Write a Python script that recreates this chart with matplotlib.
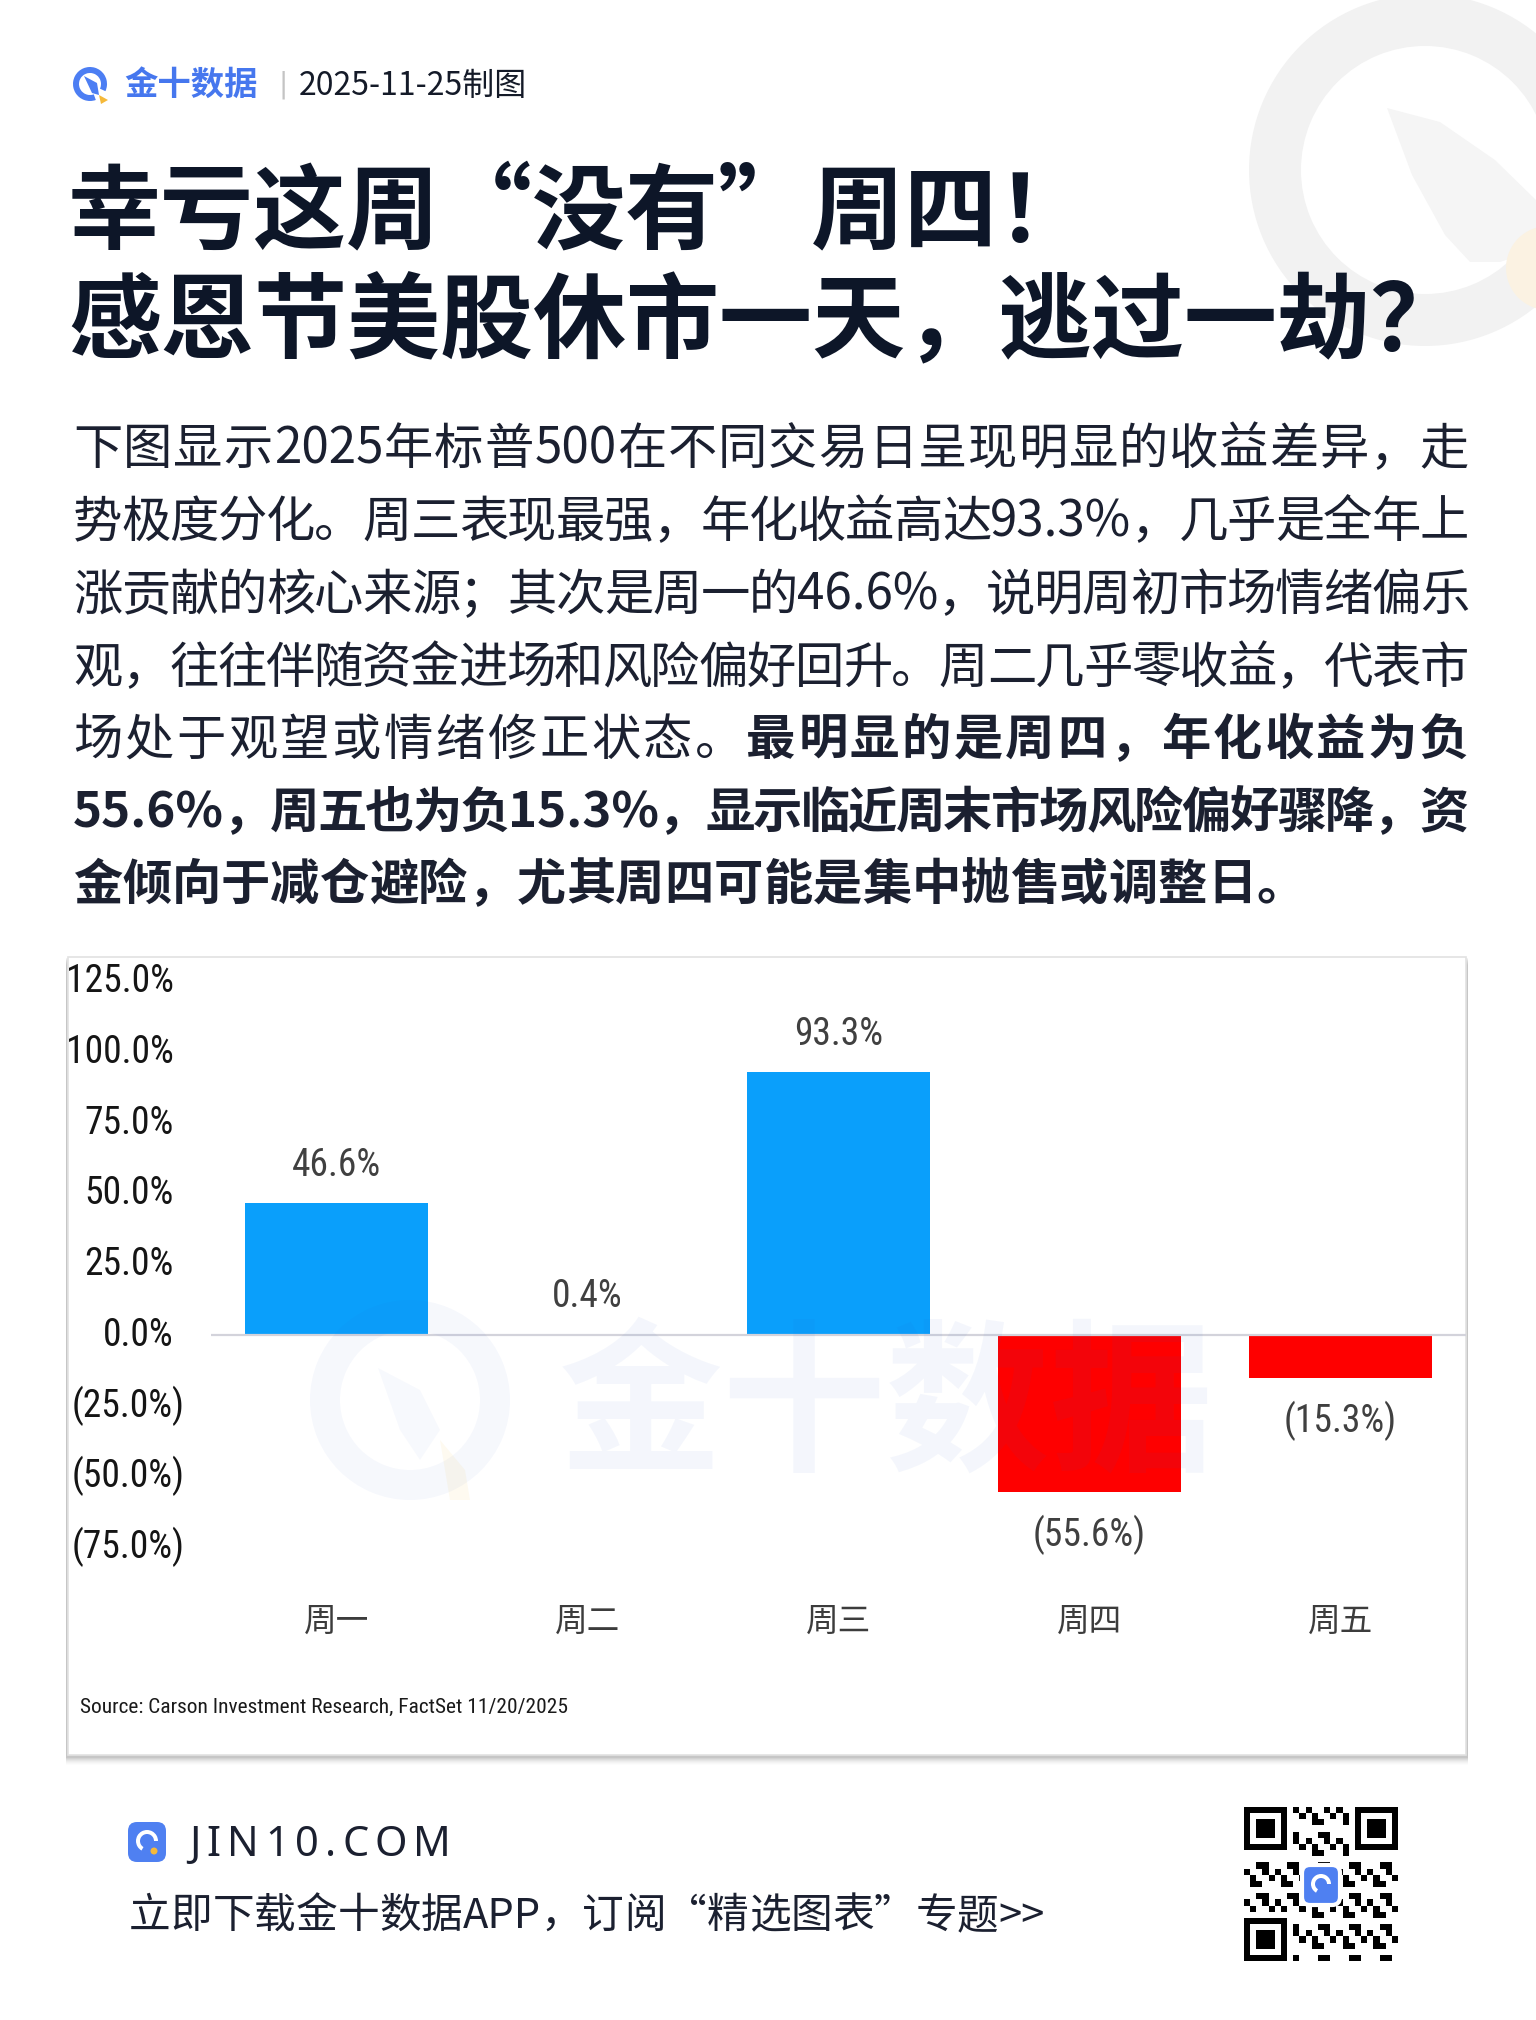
import re
import numpy as np
import matplotlib
matplotlib.use('Agg')
import matplotlib.pyplot as plt
from matplotlib import font_manager
from matplotlib.font_manager import FontProperties
from matplotlib.patches import Rectangle, Circle, Wedge, FancyBboxPatch, Polygon
import matplotlib.transforms as mtransforms

W, H, DPI = 1536, 2020, 100

# ---------------- data ----------------
days = ['周一', '周二', '周三', '周四', '周五']
returns = [46.6, 0.4, 93.3, -55.6, -15.3]
yticks = [125, 100, 75, 50, 25, 0, -25, -50, -75]

header_brand = '金十数据'
header_date = '2025-11-25制图'
title_lines = ['幸亏这周“没有”周四！', '感恩节美股休市一天，逃过一劫？']
body_lines = [
    [('下图显示2025年标普500在不同交易日呈现明显的收益差异，走', 'normal')],
    [('势极度分化。周三表现最强，年化收益高达93.3%，几乎是全年上', 'normal')],
    [('涨贡献的核心来源；其次是周一的46.6%，说明周初市场情绪偏乐', 'normal')],
    [('观，往往伴随资金进场和风险偏好回升。周二几乎零收益，代表市', 'normal')],
    [('场处于观望或情绪修正状态。', 'normal'), ('最明显的是周四，年化收益为负', 'bold')],
    [('55.6%，周五也为负15.3%，显示临近周末市场风险偏好骤降，资', 'bold')],
    [('金倾向于减仓避险，尤其周四可能是集中抛售或调整日。', 'bold')],
]
source = 'Source: Carson Investment Research, FactSet 11/20/2025'
watermark = '金十数据'
footer_site = 'JIN10.COM'
footer_cta = '立即下载金十数据APP，订阅“精选图表”专题>>'

# ---------------- fonts ----------------
CJK = ['Noto Sans CJK SC', 'DejaVu Sans']
ttf = font_manager.fontManager.ttflist


def find_file(keys):
    for key in keys:
        for f in ttf:
            base = f.fname.replace('\\', '/').split('/')[-1].lower()
            if key in base:
                return f.fname
    return None


narrow_path = find_file(['liberationsansnarrow-regular', 'robotocondensed-regular',
                         'opensans_condensed-regular', 'opensans-condensed', 'dejavusanscondensed.ttf'])
if narrow_path is not None:
    NARROW = dict(fontproperties=FontProperties(fname=narrow_path))
    nbase = narrow_path.lower()
    NS = 29 if 'narrow' in nbase else (27 if 'roboto' in nbase or 'opensans' in nbase else 25)
else:
    NARROW = dict(family=['Liberation Sans', 'DejaVu Sans'])
    NS = 25
SRC_S = NS * 0.57

plt.rcParams['font.family'] = CJK

fig = plt.figure(figsize=(W / DPI, H / DPI), dpi=DPI)
fig.patch.set_facecolor('white')
PX = mtransforms.Affine2D().scale(1, -1).translate(0, H)  # pixel coords, origin top-left
renderer = fig.canvas.get_renderer()


def nkw(size):
    if 'fontproperties' in NARROW:
        fp = NARROW['fontproperties'].copy()
        fp.set_size(size)
        return dict(fontproperties=fp)
    return dict(fontsize=size, family=NARROW['family'])


# ---------------- decoration top right ----------------
fig.patches.append(Wedge((1425, 170), 176, 0, 360, width=52, transform=PX,
                         facecolor='#f2f2f2', edgecolor='none', zorder=-5))
fig.patches.append(Polygon([(1387, 108), (1440, 122), (1495, 160), (1536, 200), (1536, 250),
                            (1500, 262), (1470, 262), (1445, 235), (1412, 175)], closed=True,
                           transform=PX, facecolor='#f5f5f5', edgecolor='none', zorder=-5))
fig.patches.append(Circle((1548, 268), 42, transform=PX, facecolor='#fbf2e2',
                          edgecolor='none', zorder=-5))

# ---------------- header ----------------
fig.patches.append(Wedge((90, 84), 17, 70, 385, width=6, transform=PX,
                         facecolor='#4c7ef3', edgecolor='none'))
fig.patches.append(Polygon([(84, 76), (97, 83), (99, 95), (92, 93)], closed=True, transform=PX,
                           facecolor='#4c7ef3', edgecolor='none'))
fig.patches.append(Polygon([(99, 95), (108, 100), (101, 104)], closed=True, transform=PX,
                           facecolor='#f5b93a', edgecolor='none'))
fig.text(124, 85, header_brand, transform=PX, fontsize=24, fontweight='bold',
         color='#4677ee', va='center', ha='left')
fig.text(279, 85, '|', transform=PX, fontsize=20, color='#c4c4c4', va='center', ha='left',
         family=['DejaVu Sans'])
fig.text(299, 86, header_date, transform=PX, fontsize=23, color='#141a28', va='center', ha='left')

# ---------------- title ----------------
TS = 67
tem = TS * DPI / 72
for i, line in enumerate(title_lines):
    yc = [206, 316][i]
    fig.text(68, yc + 0.38 * tem, line, transform=PX, fontsize=TS, fontweight='heavy',
             color='#0d1628', va='baseline', ha='left')


# ---------------- justified body ----------------
def tokens(s):
    return re.findall(r'[A-Za-z0-9.%\-><]+|.', s)


def draw_line(segments, x0, x1, yc, size, color, justify=True, family=CJK, fixed_cjk=True):
    em = size * DPI / 72
    items = []
    for text, weight in segments:
        for t in tokens(text):
            obj = fig.text(0, yc + 0.38 * em, t, transform=PX, fontsize=size, fontweight=weight,
                           color=color, va='baseline', ha='left', family=family)
            if fixed_cjk and ord(t[0]) > 0x2000 and len(t) == 1:
                w = em
            else:
                w = obj.get_window_extent(renderer).width
            items.append((obj, w))
    total = sum(w for _, w in items)
    gap = (x1 - x0 - total) / (len(items) - 1) if (justify and len(items) > 1) else 0
    x = x0
    for obj, w in items:
        obj.set_x(x)
        x += w + gap


BS = 35.5
body_y = [445, 518, 591, 664, 736, 809, 881]
for i, segs in enumerate(body_lines):
    draw_line(segs, 73, 1469, body_y[i], BS, '#1b2030', justify=(i < len(body_lines) - 1))

# ---------------- chart box ----------------
bx0, by0, bx1, by1 = 68, 957, 1466, 1755
for k, a in zip(range(1, 9), [0.10, 0.08, 0.07, 0.06, 0.05, 0.04, 0.03, 0.02]):
    fig.patches.append(Rectangle((bx0 - 2, by0 + k), bx1 - bx0 + 4, by1 - by0 + 2, transform=PX,
                                 facecolor='#000000', alpha=a * 0.5, edgecolor='none', zorder=-3))
fig.patches.append(Rectangle((bx0, by0), bx1 - bx0, by1 - by0, transform=PX,
                             facecolor='white', edgecolor='#e2e2e2', lw=1.2, zorder=-2))

# axes: 0 at px 1335, 2.824 px per percent
ylo, yhi = -85, 130
ax_left, ax_right = 211, 1466
ax_top = 1335 - yhi * 2.824
ax_bot = 1335 - ylo * 2.824
ax = fig.add_axes([ax_left / W, 1 - ax_bot / H, (ax_right - ax_left) / W, (ax_bot - ax_top) / H])
ax.patch.set_alpha(0)
ax.set_zorder(1)
for s in ax.spines.values():
    s.set_visible(False)
ax.set_xlim(-0.5, 4.5)
ax.set_ylim(ylo, yhi)

x = np.arange(len(days))
colors = ['#0a9ffb' if v >= 0 else '#fe0000' for v in returns]
ax.bar(x, returns, width=0.73, color=colors, zorder=2)
ax.axhline(0, color='#d3d3db', lw=1.6, zorder=3)

ax.set_yticks([])
ax.set_xticks(x)
ax.set_xticklabels(days, fontsize=23.5, color='#3c3c3c', family=CJK)
ax.tick_params(axis='x', length=0, pad=22)

ytr = ax.get_yaxis_transform()
for t in yticks:
    lab = f'{t:.1f}%' if t >= 0 else f'({abs(t):.1f}%)'
    xpos = -0.0295 if t >= 0 else -0.021
    ax.text(xpos, t, lab, transform=ytr, ha='right', va='center', color='#151515', **nkw(NS))

for xi, v in zip(x, returns):
    lab = f'{v:.1f}%' if v >= 0 else f'({abs(v):.1f}%)'
    off = 27 if v >= 0 else -31
    ax.annotate(lab, (xi, v), xytext=(0, off), textcoords='offset points', ha='center',
                va='center', color='#404040', **nkw(NS))

fig.text(80, 1707, source, transform=PX, color='#1a1a1a', va='center', ha='left', **nkw(SRC_S))

# watermark (over bars, very faint)
fig.patches.append(Wedge((410, 1400), 100, 0, 360, width=30, transform=PX,
                         facecolor='#2f5fd0', alpha=0.045, edgecolor='none', zorder=5))
fig.patches.append(Polygon([(378, 1368), (420, 1390), (440, 1430), (420, 1460), (400, 1430)],
                           closed=True, transform=PX, facecolor='#2f5fd0', alpha=0.035,
                           edgecolor='none', zorder=5))
fig.patches.append(Polygon([(440, 1440), (465, 1470), (470, 1500), (450, 1500)], closed=True,
                           transform=PX, facecolor='#f4c040', alpha=0.08, edgecolor='none', zorder=5))
fig.text(886, 1410, watermark, transform=PX, fontsize=118, fontweight='bold', color='#2f5fd0',
         alpha=0.05, ha='center', va='center', zorder=5)

# ---------------- footer ----------------
fig.patches.append(FancyBboxPatch((128, 1822), 38, 40, boxstyle='round,pad=0,rounding_size=9',
                                  transform=PX, facecolor='#4f80f1', edgecolor='none'))
fig.patches.append(Wedge((147, 1841), 11, 120, 360, width=4, transform=PX,
                         facecolor='white', edgecolor='none'))
fig.patches.append(Circle((154, 1851), 3.5, transform=PX, facecolor='#f5b93a', edgecolor='none'))
draw_line([(' '.join(footer_site), 'normal')], 189, 451, 1840, 30, '#1b2030', justify=True,
          family=['Noto Sans', 'DejaVu Sans'], fixed_cjk=False)
draw_line([(footer_cta, 'normal')], 129, 1041, 1912, 30, '#1b2030', justify=False)

# QR code style block
n = 25
grid = np.zeros((n, n))
ii, jj = np.meshgrid(np.arange(n), np.arange(n), indexing='ij')
grid[((ii * ii * 3 + jj * 7 + ii * jj) % 5) < 2] = 1
for (r, c) in [(0, 0), (0, n - 7), (n - 7, 0)]:
    grid[max(r - 1, 0):r + 8, max(c - 1, 0):c + 8] = 0
    grid[r:r + 7, c:c + 7] = 1
    grid[r + 1:r + 6, c + 1:c + 6] = 0
    grid[r + 2:r + 5, c + 2:c + 5] = 1
qx0, qy0, qs = 1244, 1807, 154
qax = fig.add_axes([qx0 / W, 1 - (qy0 + qs) / H, qs / W, qs / H])
qax.imshow(grid, cmap='gray_r', interpolation='nearest')
qax.axis('off')
fig.patches.append(FancyBboxPatch((1302, 1865), 38, 40, boxstyle='round,pad=0,rounding_size=8',
                                  transform=PX, facecolor='#4f80f1', edgecolor='white', lw=3,
                                  zorder=5))
fig.patches.append(Wedge((1321, 1884), 10, 120, 360, width=4, transform=PX,
                         facecolor='white', edgecolor='none', zorder=6))

fig.savefig('out.png', dpi=DPI, facecolor='white')
